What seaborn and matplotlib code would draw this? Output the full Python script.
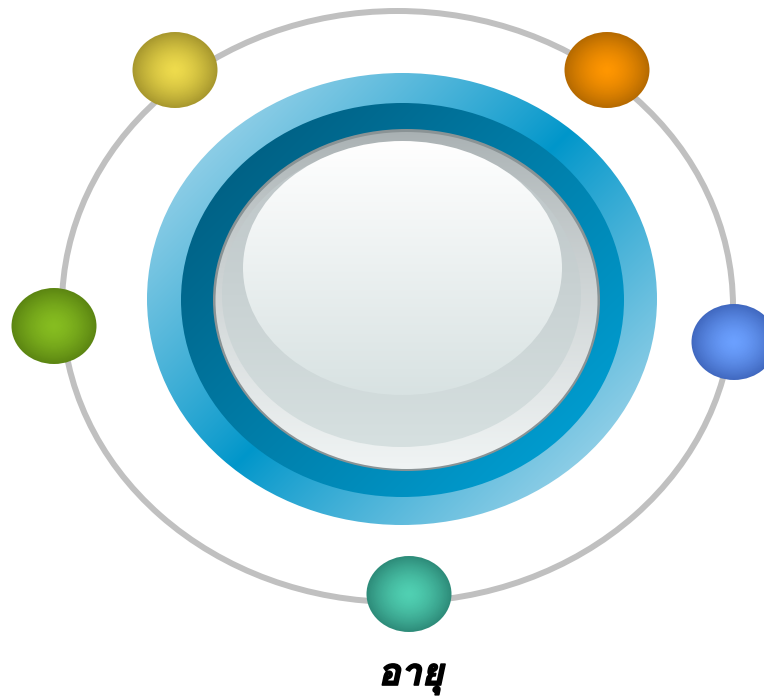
import numpy as np
import pandas as pd
import matplotlib
matplotlib.use("Agg")
import matplotlib.pyplot as plt
import matplotlib.colors as mcolors
import matplotlib.patheffects as pe
from matplotlib.patches import Ellipse
from matplotlib.path import Path
from matplotlib import font_manager
from matplotlib.ft2font import FT2Font
import seaborn as sns

# nodes sitting on the orbit
node_names = ["yellow", "orange", "green", "blue", "teal"]
node_x = [175, 607, 54, 734, 409]
node_y = [70, 70, 326, 342, 594]
node_light = ["#eedb4c", "#ff9600", "#86bd20", "#6ba0ff", "#50d0b2"]
node_dark = ["#a8982e", "#b66a00", "#5c8612", "#4169c0", "#2e8c7a"]
caption = "อายุ"

W, H = 764, 696
yy, xx = np.mgrid[0:H, 0:W] + 0.5


def blend(c0, c1, t):
    c0 = np.array(mcolors.to_rgb(c0))
    c1 = np.array(mcolors.to_rgb(c1))
    t = np.clip(t, 0, 1)[..., None]
    return c0 * (1 - t) + c1 * t


def grad_fill(ax, img, cx, cy, w, h, z):
    e = Ellipse((cx, cy), w, h, fc="none", ec="none")
    ax.add_patch(e)
    im = ax.imshow(img, extent=(0, W, H, 0), origin="upper", zorder=z,
                   interpolation="bilinear")
    im.set_clip_path(e)


def thai_family():
    fams = []
    for f in font_manager.fontManager.ttflist:
        try:
            if FT2Font(f.fname).get_char_index(0x0E2D):
                fams.append(f.name)
        except Exception:
            pass
    return fams[0] if fams else None


sns.set_theme(style="white")
fig = plt.figure(figsize=(W / 100, H / 100), dpi=100)
ax = fig.add_axes([0, 0, 1, 1])

# orbit
ax.add_patch(Ellipse((397.5, 306.5), 671, 591, fc="none", ec="#c0c0c0",
                     lw=4.3, zorder=1))

# outer blue ring, reflected diagonal gradient
d = np.abs((xx - 402) + (yy - 299)) / (np.sqrt(2) * 241)
grad_fill(ax, blend("#0096ca", "#8ccde6", d ** 0.9), 402, 299, 510, 452, 2)

# dark ring
t = ((xx - 402.5) + (yy - 300)) / (np.sqrt(2) * 209) * 0.5 + 0.5
grad_fill(ax, blend("#006286", "#009bce", t), 402.5, 300, 443, 394, 3)

# gray rim
ax.add_patch(Ellipse((406.5, 300), 387, 342, fc="#8a9395", ec="none", zorder=4))
t = (yy - 131) / 338
grad_fill(ax, blend("#a8b0b2", "#f0f4f4", t ** 0.8), 406.5, 300.5, 382, 337, 5)

# face
t = (yy - 143) / 304
grad_fill(ax, blend("#bcc4c6", "#d6e0e0", t), 401.5, 295, 359, 304, 6)

# highlight
t = (yy - 141) / 254
grad_fill(ax, blend("#ffffff", "#d8e2e2", t), 402.5, 268, 319, 254, 7)

# nodes: stacked ellipse markers give a radial gradient
circ = Path.unit_circle()
marker = Path(circ.vertices * np.array([1.0, 76 / 85]), circ.codes)
nodes = pd.DataFrame({"node": node_names, "x": node_x, "y": node_y})
steps = 36
for k in range(steps):
    f = 1 - k / steps
    cols = {n: tuple(blend(lc, dc, np.array(f ** 1.6)))
            for n, lc, dc in zip(node_names, node_light, node_dark)}
    sns.scatterplot(data=nodes, x="x", y="y", hue="node", palette=cols,
                    s=3745 * f ** 2, marker=marker, linewidth=0,
                    legend=False, ax=ax, zorder=10 + k)

fam = thai_family()
family = [fam, "DejaVu Sans"] if fam else ["DejaVu Sans"]
ax.text(411, 685, caption, ha="center", va="baseline", fontsize=27,
        fontweight="bold", fontstyle="italic", family=family, color="black",
        zorder=60, path_effects=[pe.withStroke(linewidth=1.2, foreground="black")])

ax.set_xlim(0, W)
ax.set_ylim(H, 0)
ax.set_axis_off()
fig.savefig("out.png", dpi=100)
